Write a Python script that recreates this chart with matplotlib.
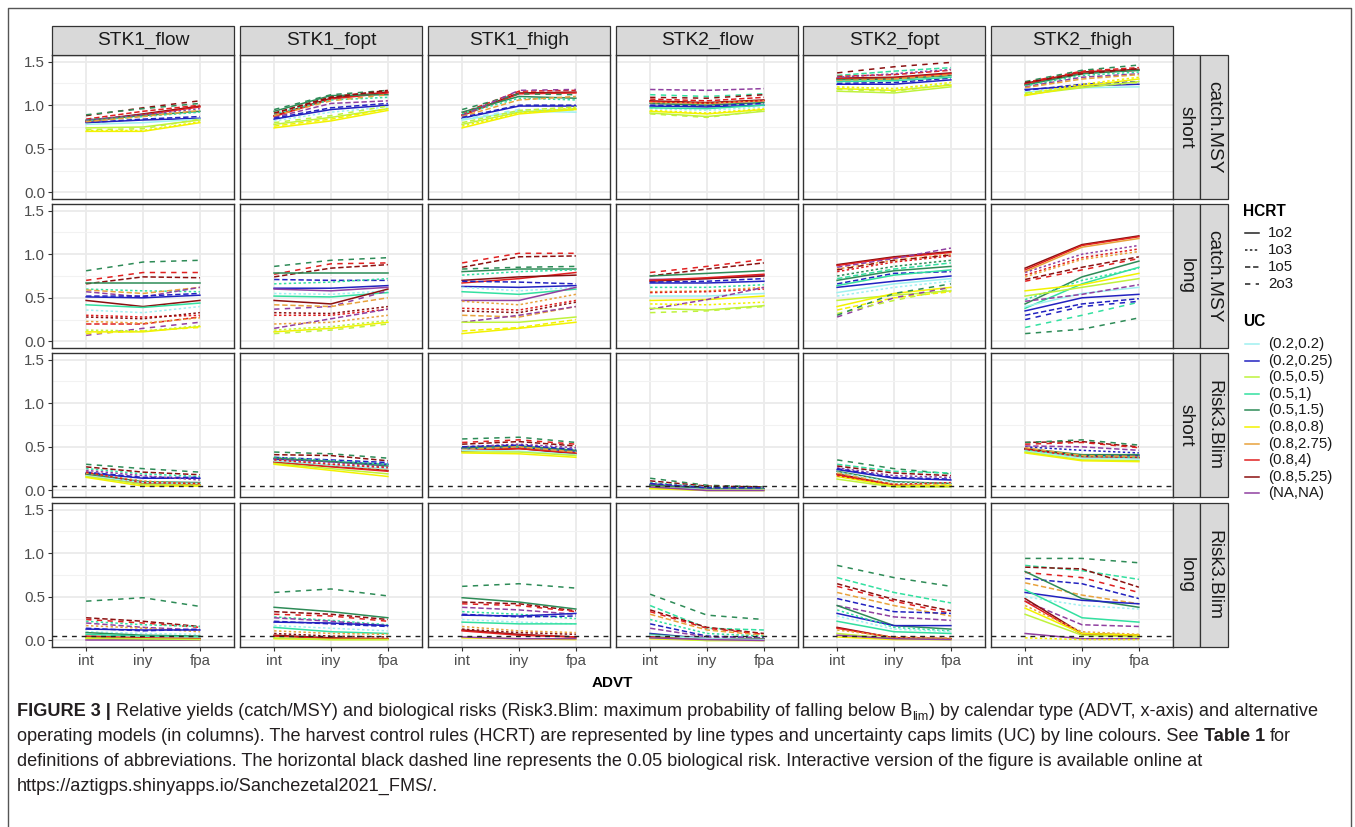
import matplotlib
matplotlib.use("Agg")
import matplotlib.pyplot as plt
from matplotlib.patches import Rectangle
from matplotlib.lines import Line2D

plt.rcParams.update({"font.family": "Liberation Sans"})

# ---------------- data ----------------
ADVT = ["int", "iny", "fpa"]
STOCKS = ["STK1_flow", "STK1_fopt", "STK1_fhigh", "STK2_flow", "STK2_fopt", "STK2_fhigh"]
ROW_TERM = ["short", "long", "short", "long"]
ROW_IND = ["catch.MSY", "catch.MSY", "Risk3.Blim", "Risk3.Blim"]
HCRT = ["1o2", "1o3", "1o5", "2o3"]
UC = ["(0.2,0.2)", "(0.2,0.25)", "(0.5,0.5)", "(0.5,1)", "(0.5,1.5)",
      "(0.8,0.8)", "(0.8,2.75)", "(0.8,4)", "(0.8,5.25)", "(NA,NA)"]
RISK_REF = 0.05

# each row: (UC index, HCRT index, value at int, iny, fpa)
cs_stk1_flow = [(8,0,.82,.90,.99),(7,0,.81,.89,.98),(7,2,.84,.93,1.0),(8,3,.88,.97,1.05),
    (4,3,.89,.96,1.02),(4,0,.83,.88,.93),(3,1,.82,.87,.92),(1,2,.80,.84,.87),(1,0,.80,.83,.85),
    (0,0,.78,.80,.84),(9,1,.83,.89,.96),(6,2,.81,.87,.94),(2,0,.74,.75,.83),(5,0,.70,.70,.80),
    (5,1,.71,.71,.81),(2,3,.72,.73,.84)]
cs_stk1_fopt = [(8,0,.88,1.08,1.15),(7,0,.87,1.07,1.14),(7,2,.90,1.10,1.16),(4,0,.93,1.11,1.12),
    (4,3,.95,1.12,1.17),(3,1,.90,1.06,1.09),(9,2,.86,1.02,1.05),(1,2,.85,.97,1.02),(1,0,.84,.95,1.00),
    (0,1,.82,.92,.98),(6,3,.88,1.05,1.12),(2,0,.78,.86,.96),(5,0,.74,.82,.94),(5,2,.76,.84,.96),
    (2,3,.80,.88,.99),(8,2,.91,1.09,1.17)]
cs_stk1_fhigh = [(8,0,.89,1.14,1.15),(7,0,.88,1.13,1.14),(7,2,.91,1.16,1.17),(4,3,.95,1.13,1.12),
    (4,0,.92,1.10,1.08),(3,1,.90,1.08,1.06),(9,3,.88,1.17,1.18),(6,2,.87,1.06,1.10),(1,0,.85,.99,.99),
    (1,2,.86,1.00,1.00),(0,0,.83,.93,.92),(0,3,.84,.95,.94),(2,0,.78,.92,.96),(5,0,.74,.90,.95),
    (5,1,.76,.91,.97),(2,2,.80,.94,.98)]
cs_stk2_flow = [(9,2,1.18,1.17,1.19),(3,3,1.12,1.10,1.13),(8,0,1.05,1.03,1.06),(7,0,1.04,1.02,1.05),
    (7,2,1.07,1.05,1.09),(4,0,1.02,1.00,1.03),(6,1,1.03,1.02,1.05),(1,0,.99,.98,1.00),(1,2,1.00,.99,1.02),
    (0,1,.96,.94,.98),(3,0,.97,.96,1.00),(5,0,.93,.90,.95),(2,0,.91,.87,.93),(2,3,.90,.86,.94),
    (5,1,.94,.91,.96),(8,3,1.09,1.08,1.12)]
cs_stk2_fopt = [(8,3,1.37,1.44,1.49),(3,2,1.34,1.39,1.43),(8,0,1.31,1.32,1.37),(7,0,1.30,1.31,1.36),
    (7,2,1.33,1.35,1.40),(4,0,1.29,1.30,1.34),(9,1,1.32,1.36,1.41),(6,2,1.28,1.30,1.35),
    (1,0,1.24,1.24,1.29),(1,2,1.25,1.26,1.31),(0,1,1.20,1.19,1.24),(3,0,1.27,1.28,1.32),
    (5,0,1.19,1.17,1.23),(2,0,1.16,1.14,1.21),(2,3,1.18,1.16,1.24),(5,1,1.21,1.19,1.26)]
cs_stk2_fhigh = [(8,0,1.25,1.38,1.41),(7,0,1.24,1.37,1.40),(7,2,1.26,1.39,1.43),(4,3,1.27,1.40,1.46),
    (4,0,1.23,1.36,1.40),(3,1,1.22,1.34,1.38),(9,2,1.21,1.32,1.36),(6,2,1.20,1.30,1.35),
    (1,0,1.18,1.22,1.24),(1,2,1.17,1.24,1.27),(0,0,1.15,1.20,1.21),(2,0,1.12,1.20,1.27),
    (5,0,1.11,1.22,1.30),(5,1,1.13,1.24,1.32),(2,3,1.14,1.21,1.26),(8,3,1.26,1.36,1.42)]

cl_stk1_flow = [(4,3,.81,.91,.93),(7,3,.70,.79,.79),(8,2,.66,.74,.73),(4,0,.67,.67,.67),
    (3,1,.60,.58,.57),(6,2,.59,.55,.62),(9,2,.57,.51,.62),(1,0,.51,.50,.53),(1,2,.52,.52,.55),
    (8,0,.47,.40,.47),(3,0,.42,.39,.44),(0,1,.36,.33,.40),(7,1,.30,.28,.30),(8,1,.28,.26,.33),
    (7,2,.20,.20,.28),(6,1,.23,.21,.27),(9,3,.07,.15,.22),(5,0,.11,.11,.17),(2,1,.13,.12,.18),
    (5,3,.09,.12,.16)]
cl_stk1_fopt = [(4,3,.86,.93,.96),(7,3,.77,.89,.90),(8,2,.74,.84,.88),(4,0,.79,.79,.79),
    (1,2,.71,.70,.70),(3,1,.66,.68,.72),(1,0,.61,.61,.64),(9,0,.60,.58,.62),(0,1,.55,.54,.58),
    (3,0,.52,.51,.56),(8,0,.47,.43,.60),(9,3,.37,.40,.58),(6,2,.42,.40,.50),(7,1,.30,.30,.37),
    (8,1,.33,.32,.40),(9,2,.15,.26,.37),(5,0,.11,.15,.22),(2,1,.13,.17,.24),(6,1,.20,.22,.30),
    (2,3,.09,.13,.20)]
cl_stk1_fhigh = [(7,3,.90,1.01,1.01),(8,2,.85,.97,.98),(4,3,.83,.85,.86),(4,0,.80,.83,.83),
    (3,1,.76,.80,.82),(7,0,.67,.72,.79),(8,0,.70,.74,.76),(1,2,.69,.68,.66),(1,0,.63,.62,.64),
    (0,1,.62,.58,.62),(3,0,.57,.54,.60),(9,0,.47,.47,.62),(6,1,.46,.42,.54),(7,1,.38,.36,.47),
    (8,1,.35,.33,.45),(6,2,.30,.28,.40),(9,2,.22,.30,.40),(2,0,.22,.22,.28),(5,0,.09,.15,.22),
    (5,2,.12,.16,.25)]
cl_stk2_flow = [(7,3,.79,.86,.94),(8,2,.75,.83,.90),(4,0,.75,.78,.81),(9,0,.71,.72,.76),
    (8,0,.69,.72,.75),(7,0,.70,.73,.77),(1,0,.67,.67,.69),(1,2,.68,.69,.72),(3,1,.62,.62,.65),
    (6,1,.57,.58,.62),(7,1,.56,.57,.60),(0,0,.52,.52,.55),(5,0,.47,.48,.52),(9,2,.37,.48,.62),
    (5,1,.43,.42,.45),(2,0,.38,.36,.41),(2,3,.33,.35,.40)]
cl_stk2_fopt = [(8,0,.88,.97,1.03),(7,0,.87,.96,1.02),(9,2,.85,.95,1.07),(6,1,.83,.93,1.00),
    (7,1,.80,.91,.98),(8,3,.82,.93,.99),(4,1,.75,.86,.93),(3,2,.72,.83,.90),(4,0,.70,.81,.86),
    (1,0,.62,.69,.75),(1,2,.66,.78,.80),(3,0,.64,.76,.82),(0,0,.56,.66,.72),(0,1,.52,.62,.69),
    (2,0,.47,.53,.58),(5,0,.40,.55,.62),(5,2,.36,.50,.57),(9,3,.28,.50,.62),(2,3,.32,.47,.60),
    (4,3,.30,.55,.66)]
cl_stk2_fhigh = [(8,0,.84,1.11,1.21),(7,0,.82,1.10,1.20),(6,0,.80,1.08,1.18),(9,1,.79,1.00,1.10),
    (7,1,.76,.96,1.06),(6,1,.74,.94,1.03),(8,2,.71,.85,.97),(7,3,.69,.82,.95),(4,0,.43,.74,.92),
    (3,0,.38,.66,.85),(3,1,.48,.70,.84),(5,0,.58,.65,.78),(2,0,.52,.62,.72),(0,0,.40,.55,.62),
    (1,0,.35,.50,.54),(1,2,.30,.43,.49),(9,2,.46,.54,.65),(3,3,.16,.30,.45),(4,3,.09,.14,.27),
    (1,3,.25,.40,.46)]

rs_stk1_flow = [(4,3,.30,.25,.21),(8,2,.27,.21,.18),(3,1,.25,.19,.16),(1,0,.20,.14,.14),
    (1,2,.21,.15,.15),(9,1,.23,.17,.12),(8,0,.19,.08,.07),(7,0,.18,.07,.06),(4,0,.19,.10,.09),
    (0,0,.17,.09,.08),(6,1,.20,.11,.07),(2,0,.16,.07,.06),(5,0,.15,.05,.05),(7,1,.21,.09,.08)]
rs_stk1_fopt = [(4,3,.44,.42,.37),(8,2,.41,.40,.34),(1,0,.36,.33,.30),(1,2,.38,.35,.32),
    (3,1,.38,.34,.30),(4,0,.37,.33,.28),(9,1,.36,.32,.27),(8,0,.33,.28,.23),(7,0,.32,.27,.22),
    (6,2,.34,.29,.24),(0,0,.34,.29,.25),(2,0,.31,.25,.19),(5,0,.30,.23,.16),(7,1,.35,.30,.26)]
rs_stk1_fhigh = [(4,3,.59,.61,.55),(8,2,.53,.56,.51),(7,3,.55,.58,.53),(9,1,.50,.53,.49),
    (1,0,.48,.49,.45),(4,0,.49,.51,.46),(3,1,.47,.49,.44),(8,0,.45,.48,.42),(7,0,.46,.48,.43),
    (6,2,.47,.50,.44),(0,0,.46,.45,.41),(2,0,.44,.44,.40),(5,0,.43,.42,.38),(1,2,.50,.52,.47)]
rs_stk2_flow = [(4,3,.14,.06,.04),(8,2,.11,.05,.04),(3,1,.09,.04,.03),(1,0,.07,.02,.02),
    (9,1,.08,.03,.03),(8,0,.05,.01,.01),(7,0,.05,.01,.01),(6,2,.06,.02,.02),(4,0,.06,.02,.02),
    (0,0,.04,.01,.01),(2,0,.03,.00,.00),(5,0,.02,.00,.00),(9,0,.04,.00,.00),(1,2,.08,.03,.03)]
rs_stk2_fopt = [(4,3,.35,.25,.19),(3,2,.30,.22,.20),(8,2,.28,.20,.17),(9,1,.26,.17,.15),
    (1,0,.24,.14,.12),(1,2,.25,.15,.13),(4,0,.22,.10,.08),(0,1,.21,.09,.08),(8,0,.19,.06,.05),
    (7,0,.18,.05,.05),(6,2,.20,.07,.06),(5,0,.16,.05,.06),(2,0,.13,.04,.04),(7,1,.17,.07,.09)]
rs_stk2_fhigh = [(8,2,.55,.56,.50),(4,3,.55,.58,.52),(7,3,.53,.55,.49),(1,1,.50,.46,.43),
    (9,2,.51,.50,.46),(1,0,.47,.40,.40),(4,0,.48,.41,.41),(8,0,.48,.39,.38),(7,0,.47,.38,.37),
    (3,1,.46,.39,.38),(6,2,.49,.40,.39),(0,0,.45,.37,.36),(2,0,.44,.35,.34),(5,0,.43,.34,.33)]

rl_stk1_flow = [(4,3,.45,.49,.39),(8,2,.26,.22,.16),(7,3,.24,.20,.15),(3,1,.22,.18,.16),
    (9,2,.20,.15,.12),(6,1,.17,.14,.10),(1,0,.13,.12,.12),(1,2,.14,.11,.13),(0,1,.10,.08,.07),
    (4,0,.09,.06,.05),(3,0,.07,.05,.04),(8,0,.04,.02,.02),(7,0,.05,.03,.02),(5,0,.02,.01,.01),
    (9,0,.01,.01,.01),(2,0,.03,.02,.01)]
rl_stk1_fopt = [(4,3,.55,.59,.51),(4,0,.38,.33,.26),(8,2,.33,.30,.24),(7,3,.30,.28,.22),
    (3,1,.27,.23,.18),(9,2,.26,.22,.17),(1,0,.21,.20,.17),(1,2,.22,.19,.16),(0,1,.17,.14,.11),
    (3,0,.15,.10,.08),(6,1,.11,.08,.07),(8,1,.08,.05,.04),(8,0,.06,.03,.02),(7,0,.05,.02,.02),
    (5,0,.02,.01,.01),(2,0,.03,.01,.01)]
rl_stk1_fhigh = [(4,3,.62,.65,.60),(4,0,.49,.44,.36),(8,2,.44,.42,.34),(7,3,.42,.40,.33),
    (9,2,.38,.35,.30),(3,1,.33,.30,.25),(1,0,.29,.28,.31),(1,2,.30,.27,.28),(0,1,.24,.21,.19),
    (3,0,.21,.19,.19),(6,1,.16,.11,.09),(8,1,.13,.09,.07),(8,0,.12,.07,.04),(7,0,.11,.06,.04),
    (5,0,.03,.02,.01),(9,0,.04,.02,.02)]
rl_stk2_flow = [(4,3,.53,.29,.24),(3,2,.40,.14,.12),(8,2,.35,.15,.08),(7,3,.33,.14,.07),
    (6,2,.30,.12,.06),(3,1,.24,.08,.05),(1,2,.19,.05,.03),(9,2,.14,.04,.03),(1,0,.08,.02,.02),
    (4,0,.07,.02,.02),(8,0,.05,.01,.01),(7,0,.04,.01,.01),(5,0,.02,.00,.00),(2,0,.03,.00,.00),
    (0,0,.06,.02,.01),(9,0,.03,.01,.00)]
rl_stk2_fopt = [(4,3,.86,.72,.62),(3,2,.72,.55,.43),(8,2,.65,.47,.34),(7,3,.62,.45,.31),
    (6,2,.55,.40,.28),(1,2,.48,.33,.31),(9,2,.40,.27,.23),(4,0,.40,.17,.13),(1,0,.31,.17,.17),
    (3,1,.35,.15,.11),(0,1,.28,.13,.10),(3,0,.22,.10,.08),(8,0,.15,.03,.02),(7,0,.14,.03,.02),
    (6,1,.12,.04,.03),(2,0,.08,.02,.01),(5,0,.04,.01,.01),(9,0,.06,.02,.01)]
rl_stk2_fhigh = [(4,3,.94,.94,.89),(3,2,.86,.80,.70),(8,2,.84,.82,.61),(7,3,.78,.72,.55),
    (1,2,.71,.65,.48),(6,2,.66,.52,.42),(4,0,.79,.48,.38),(1,0,.55,.46,.42),(0,1,.50,.40,.36),
    (3,0,.58,.26,.21),(9,2,.45,.18,.16),(8,0,.48,.08,.06),(7,0,.45,.07,.05),(6,1,.40,.10,.07),
    (5,0,.37,.08,.06),(2,0,.30,.06,.04),(9,0,.08,.02,.02),(5,1,.03,.01,.01)]

PANELS = [
    [cs_stk1_flow, cs_stk1_fopt, cs_stk1_fhigh, cs_stk2_flow, cs_stk2_fopt, cs_stk2_fhigh],
    [cl_stk1_flow, cl_stk1_fopt, cl_stk1_fhigh, cl_stk2_flow, cl_stk2_fopt, cl_stk2_fhigh],
    [rs_stk1_flow, rs_stk1_fopt, rs_stk1_fhigh, rs_stk2_flow, rs_stk2_fopt, rs_stk2_fhigh],
    [rl_stk1_flow, rl_stk1_fopt, rl_stk1_fhigh, rl_stk2_flow, rl_stk2_fopt, rl_stk2_fhigh],
]

# ---------------- style ----------------
UC_COL = ["#9ff0f0", "#2222c0", "#bff23c", "#33e0a0", "#2e8b57",
          "#f2f200", "#e8a23c", "#e02020", "#8b1010", "#9040a0"]
HCRT_LS = ["-", (0, (1.6, 1.6)), (0, (3.5, 1.8)), (0, (3.5, 3.5))]
INK, GRID, STRIP, TICK = "#333333", "#ebebeb", "#d9d9d9", "#4d4d4d"

W, H = 1355, 827
COL_X = [52, 240, 428, 616, 803, 991]
ROW_Y = [55, 204, 353, 503]
PW, PH = 182, 144

def frac(x, y, w, h):
    return [x / W, 1 - (y + h) / H, w / W, h / H]

def strip(x, y, w, h, text, rot=0):
    fig.add_artist(Rectangle((x / W, 1 - (y + h) / H), w / W, h / H, transform=fig.transFigure,
                             fc=STRIP, ec=INK, lw=0.9))
    fig.text((x + w / 2) / W, 1 - (y + h / 2) / H, text, ha="center", va="center",
             rotation=rot, fontsize=13.8, color="#1a1a1a")

fig = plt.figure(figsize=(W / 100, H / 100), dpi=100)

for r in range(4):
    for c in range(6):
        ax = fig.add_axes(frac(COL_X[c], ROW_Y[r], PW, PH))
        ax.set_xlim(0.4, 3.6); ax.set_ylim(-0.075, 1.575)
        ax.set_xticks([1, 2, 3]); ax.set_yticks([0, 0.5, 1.0, 1.5])
        ax.set_yticks([0.25, 0.75, 1.25], minor=True)
        ax.grid(True, which="major", color=GRID, lw=1.3, zorder=0)
        ax.grid(True, which="minor", axis="y", color="#f2f2f2", lw=0.8, zorder=0)
        ax.set_axisbelow(True)
        for s in ax.spines.values():
            s.set_color(INK); s.set_linewidth(1.0)
        ax.tick_params(which="minor", length=0)
        ax.tick_params(axis="y", length=3 if c == 0 else 0, color=INK, width=0.8,
                       labelsize=10.8, labelcolor=TICK, pad=2, labelleft=(c == 0))
        ax.tick_params(axis="x", length=3 if r == 3 else 0, color=INK, width=0.8,
                       labelsize=10.8, labelcolor=TICK, pad=2, labelbottom=(r == 3))
        ax.set_yticklabels(["0.0", "0.5", "1.0", "1.5"])
        ax.set_xticklabels(ADVT)
        if r >= 2:
            ax.axhline(RISK_REF, color="#222222", lw=1.0, ls=(0, (3.5, 3.5)), zorder=5)
        for uc, hc, *vals in PANELS[r][c]:
            ax.plot([1, 2, 3], vals, color=UC_COL[uc], ls=HCRT_LS[hc], lw=1.1, zorder=3)

# top strips
for c in range(6):
    strip(COL_X[c], 26, PW, 29, STOCKS[c])
# right strips
for r in range(4):
    strip(1173, ROW_Y[r], 27, PH, ROW_TERM[r], rot=270)
    strip(1200, ROW_Y[r], 28, PH, ROW_IND[r], rot=270)

fig.text(612 / W, 1 - 683 / H, "ADVT", ha="center", va="center", fontsize=11, fontweight="bold")

# legend
def leg_key(y, color, ls):
    fig.add_artist(Line2D([1245 / W, 1259 / W], [1 - y / H] * 2, transform=fig.transFigure,
                          color=color, ls=ls, lw=1.1))

fig.text(1243 / W, 1 - 212 / H, "HCRT", ha="left", va="center", fontsize=11.2, fontweight="bold")
for i, name in enumerate(HCRT):
    y = 233 + i * 17
    leg_key(y, "#222222", HCRT_LS[i])
    fig.text(1268 / W, 1 - y / H, name, ha="left", va="center", fontsize=10.8, color="#1a1a1a")
fig.text(1243 / W, 1 - 321 / H, "UC", ha="left", va="center", fontsize=11.2, fontweight="bold")
for i, name in enumerate(UC):
    y = 344 + i * 16.6
    leg_key(y, UC_COL[i], "-")
    fig.text(1268 / W, 1 - y / H, name, ha="left", va="center", fontsize=10.8, color="#1a1a1a")

# outer frame
fig.add_artist(Line2D([8 / W, 8 / W, 1351 / W, 1351 / W], [0, 1 - 8 / H, 1 - 8 / H, 0],
                      transform=fig.transFigure, color="#555555", lw=1.0))

# caption: size chosen so the first line fills the frame width like the original
rend = fig.canvas.get_renderer()
L1 = [("FIGURE 3 |", dict(fontweight="bold")), (" ", {}),
      ("Relative yields (catch/MSY) and biological risks (Risk3.Blim: maximum probability of falling below B", {}),
      ("lim", dict(sub=True)),
      (") by calendar type (ADVT, x-axis) and alternative", {})]
L2 = [("operating models (in columns). The harvest control rules (HCRT) are represented by line types and uncertainty caps limits (UC) by line colours. See", {}),
      (" ", {}), ("Table 1", dict(fontweight="bold")), (" ", {}), ("for", {})]
L3 = [("definitions of abbreviations. The horizontal black dashed line represents the 0.05 biological risk. Interactive version of the figure is available online at", {})]
L4 = [("https://aztigps.shinyapps.io/Sanchezetal2021_FMS/.", {})]

def cap_line(y, parts, size, draw=True):
    x = 17.0
    sp_a = fig.text(0, 0, "x x", fontsize=size); sp_b = fig.text(0, 0, "xx", fontsize=size)
    space = sp_a.get_window_extent(rend).width - sp_b.get_window_extent(rend).width
    sp_a.remove(); sp_b.remove()
    for txt, kw in parts:
        if txt == " ":
            x += space; continue
        kw = dict(kw)
        sub = kw.pop("sub", False)
        fs = size * 0.7 if sub else size
        dy = 3.5 if sub else 0
        t = fig.text(x / W, 1 - (y + dy) / H, txt, ha="left", va="baseline", fontsize=fs,
                     color="#231f20", **kw)
        x += t.get_window_extent(rend).width
        if not draw:
            t.remove()
    return x

probe_end = cap_line(715, L1, 10.0, draw=False)
size = 10.0 * (1318 - 17) / (probe_end - 17)
cap_line(716, L1, size)
cap_line(741, L2, size)
cap_line(766, L3, size)
cap_line(791, L4, size)

fig.savefig("out.png", dpi=100)
